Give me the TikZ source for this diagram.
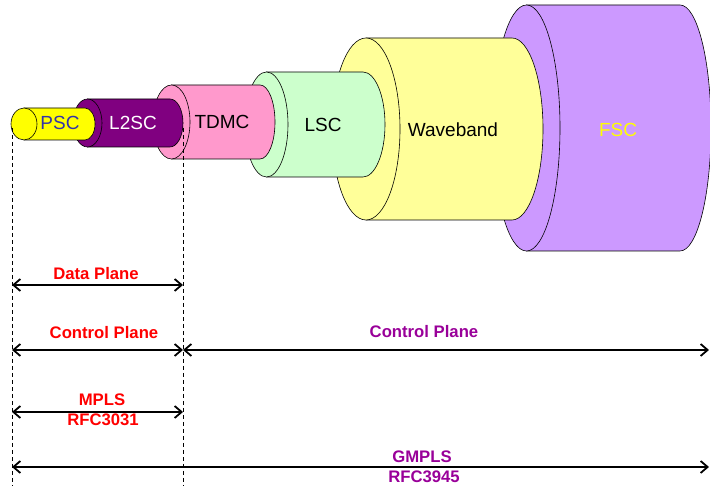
\documentclass[tikz,border=0pt]{standalone}
\usepackage{fontspec}
\setmainfont{Liberation Sans}
\usetikzlibrary{arrows.meta}

\definecolor{pscfill}{RGB}{255,255,0}
\definecolor{ltwosfill}{RGB}{128,0,128}
\definecolor{tdmfill}{RGB}{255,153,204}
\definecolor{lscfill}{RGB}{204,255,204}
\definecolor{wavefill}{RGB}{255,255,153}
\definecolor{fscfill}{RGB}{204,153,255}
\definecolor{pscblue}{RGB}{51,51,170}
\definecolor{planered}{RGB}{255,0,0}
\definecolor{planepurple}{RGB}{153,0,153}

% one switching layer: left x, right x, centre y, left x radius, right x radius, y radius, fill
\newcommand{\layercyl}[7]{%
	\filldraw[cyl, fill=#7] (#1,#3+#6) -- (#2,#3+#6)
	arc[start angle=90, end angle=-90, x radius=#5, y radius=#6] -- (#1,#3-#6) -- cycle;
	\filldraw[cyl, fill=#7] (#1,#3) ellipse[x radius=#4, y radius=#6];
}

\tikzset{
	cyl/.style={draw=black, line width=0.6pt},
	cyllbl/.style={font=\fontsize{19}{21}\selectfont, inner sep=0pt},
	guide/.style={dashed, line width=0.6pt, dash pattern=on 4pt off 3pt},
	span/.style={line width=1.8pt},
	planelbl/.style={font=\fontsize{16.7}{18}\selectfont\bfseries, anchor=base, inner sep=0pt},
}

\begin{document}
\begin{tikzpicture}[x=1pt, y=1pt, line join=round,
		>={Straight Barb[length=7pt, width=12pt]}]
	\useasboundingbox (0,0) rectangle (710,486);

	% ================= nested cylinders, back to front =================
	\layercyl{526.5}{680}{358}{33.5}{31}{123}{fscfill}
	\layercyl{366}{512}{357}{34}{31}{91}{wavefill}
	\layercyl{266.5}{363}{361.5}{21.5}{22}{52.5}{lscfill}
	\layercyl{171.5}{260}{364}{18.5}{15}{37}{tdmfill}
	\layercyl{87.5}{170}{363}{14.5}{13}{24}{ltwosfill}
	\layercyl{24}{85}{362}{13}{10}{16}{pscfill}

	\node[cyllbl, text=pscblue] (psc) at (60,363) {PSC};
	\node[cyllbl, text=white] (l2sc) at (133,363) {L2SC};
	\node[cyllbl] (tdmc) at (222,364) {TDMC};
	\node[cyllbl] (lsc) at (323,361) {LSC};
	\node[cyllbl] (wave) at (453,356) {Waveband};
	\node[cyllbl, text=pscfill] (fsc) at (618,356) {FSC};

	% ================= guide lines =================
	\coordinate (gl top) at (12,358);
	\coordinate (gl bot) at (12,0);
	\coordinate (gm top) at (183,358);
	\coordinate (gm bot) at (183,0);
	\draw[guide] (gl top) -- (gl bot);
	\draw[guide] (gm top) -- (gm bot);

	% ================= spans =================
	\coordinate (dp l) at (12,201);
	\coordinate (dp r) at (183,201);
	\coordinate (cp l) at (12,136);
	\coordinate (cp m) at (183,136);
	\coordinate (cp r) at (709,136);
	\coordinate (mp l) at (12,74);
	\coordinate (mp r) at (183,74);
	\coordinate (gm l) at (12,19);
	\coordinate (gm r) at (709,19);

	\draw[span, <->] (dp l) -- (dp r);
	\draw[span, <->] (cp l) -- (cp m);
	\draw[span, <->] (cp m) -- (cp r);
	\draw[span, <->] (mp l) -- (mp r);
	\draw[span, <->] (gm l) -- (gm r);

	\node[planelbl, text=planered] (data) at (96,206) {Data Plane};
	\node[planelbl, text=planered] (ctl left) at (104,147) {Control Plane};
	\node[planelbl, text=planepurple] (ctl right) at (424,148) {Control Plane};
	\node[planelbl, text=planered] (mpls) at (102,80) {MPLS};
	\node[planelbl, text=planered] (rfc mpls) at (103,60) {RFC3031};
	\node[planelbl, text=planepurple] (gmpls) at (422,23) {GMPLS};
	\node[planelbl, text=planepurple] (rfc gmpls) at (424,3) {RFC3945};

\end{tikzpicture}
\end{document}
